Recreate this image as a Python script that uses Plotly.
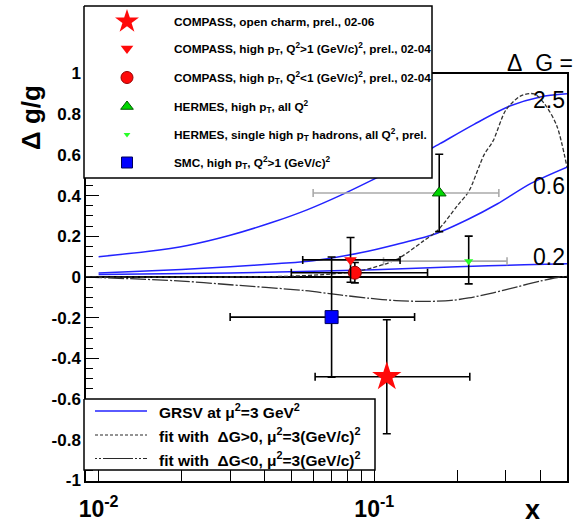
import math
import plotly.graph_objects as go

W, H = 576, 526

# ---------------- data ----------------
# GRSV curves (mu^2 = 3 GeV^2) for Delta G = 2.5, 0.6, 0.2
grsv25_x = [0.01, 0.015, 0.021, 0.03, 0.043, 0.057, 0.075, 0.096, 0.13, 0.173, 0.23, 0.31, 0.4, 0.5]
grsv25_y = [0.10, 0.125, 0.155, 0.205, 0.27, 0.33, 0.40, 0.47, 0.56, 0.655, 0.75, 0.84, 0.885, 0.90]
grsv06_x = [0.01, 0.02, 0.03, 0.045, 0.06, 0.09, 0.12, 0.165, 0.22, 0.28, 0.37, 0.5]
grsv06_y = [0.02, 0.037, 0.05, 0.066, 0.08, 0.12, 0.16, 0.21, 0.285, 0.36, 0.46, 0.54]
grsv02_x = [0.01, 0.03, 0.06, 0.1, 0.2, 0.35, 0.5]
grsv02_y = [0.012, 0.02, 0.028, 0.036, 0.05, 0.06, 0.065]
# fits
fitpos_x = [0.009, 0.03, 0.05, 0.07, 0.09, 0.12, 0.15, 0.17, 0.2, 0.22, 0.25, 0.27, 0.30, 0.34, 0.38, 0.42, 0.46, 0.5]
fitpos_y = [0.0, 0.0, 0.004, 0.015, 0.032, 0.085, 0.175, 0.23, 0.35, 0.42, 0.60, 0.67, 0.82, 0.89, 0.90, 0.84, 0.74, 0.54]
fitneg_x = [0.009, 0.02, 0.03, 0.055, 0.075, 0.095, 0.12, 0.155, 0.19, 0.22, 0.27, 0.33, 0.4, 0.47, 0.5]
fitneg_y = [0.0, -0.02, -0.038, -0.066, -0.088, -0.104, -0.116, -0.12, -0.115, -0.103, -0.078, -0.048, -0.02, 0.0, 0.003]

# measurements: x, dg/g, +err, -err, x_low, x_high
charm = dict(x=0.111, y=-0.49, ep=0.28, em=0.28, xlo=0.061, xhi=0.222)
hipt_gt1 = dict(x=0.082, y=0.084, ep=0.11, em=0.11, xlo=0.055, xhi=0.124)
hipt_lt1 = dict(x=0.085, y=0.021, ep=0.05, em=0.05, xlo=0.050, xhi=0.156)
hermes_hipt = dict(x=0.172, y=0.413, ep=0.19, em=0.19, xlo=0.060, xhi=0.283)
hermes_single = dict(x=0.22, y=0.078, ep=0.123, em=0.112, xlo=0.108, xhi=0.303)
smc = dict(x=0.070, y=-0.197, ep=0.295, em=0.295, xlo=0.030, xhi=0.140)

yticks = [-1, -0.8, -0.6, -0.4, -0.2, 0, 0.2, 0.4, 0.6, 0.8, 1]
ytick_text = ["-1", "-0.8", "-0.6", "-0.4", "-0.2", "0", "0.2", "0.4", "0.6", "0.8", "1"]
xticks = [0.01, 0.1]
xtick_text = ["10<sup>-2</sup>", "10<sup>-1</sup>"]
dg_labels = ["2.5", "0.6", "0.2"]

top_legend_text = [
    "COMPASS, open charm, prel., 02-06",
    "COMPASS, high p<sub>T</sub>, Q<sup>2</sup>&gt;1 (GeV/c)<sup>2</sup>, prel., 02-04",
    "COMPASS, high p<sub>T</sub>, Q<sup>2</sup>&lt;1 (GeV/c)<sup>2</sup>, prel., 02-04",
    "HERMES, high p<sub>T</sub>, all Q<sup>2</sup>",
    "HERMES, single high p<sub>T</sub> hadrons, all Q<sup>2</sup>, prel.",
    "SMC, high p<sub>T</sub>, Q<sup>2</sup>&gt;1 (GeV/c)<sup>2</sup>",
]
bottom_legend_text = [
    "GRSV at \u03bc<sup>2</sup>=3 GeV<sup>2</sup>",
    "fit with  \u0394G&gt;0, \u03bc<sup>2</sup>=3(GeV/c)<sup>2</sup>",
    "fit with  \u0394G&lt;0, \u03bc<sup>2</sup>=3(GeV/c)<sup>2</sup>",
]

# ---------------- styles / layout geometry (pixels) ----------------
FONT = "Liberation Sans"
PLOT_L, PLOT_R, PLOT_T, PLOT_B = 86, 567, 73.5, 480.5
BLUE = "rgb(35,35,255)"
RED = "rgb(255,10,10)"
GREEN = "rgb(0,215,0)"
LGREEN = "rgb(40,255,40)"
SQBLUE = "rgb(0,0,255)"
GREY_BAR = "rgb(170,170,170)"
FIT_COL = "rgb(50,50,50)"

styles = [
    dict(d=charm, symbol="star", size=22, color=RED, lc=RED, lw=0, exc="black", lsize=18),
    dict(d=hipt_gt1, symbol="triangle-down", size=11, color=RED, lc=RED, lw=0, exc="black", lsize=11),
    dict(d=hipt_lt1, symbol="circle", size=13, color=RED, lc="rgb(150,0,0)", lw=1, exc="black", lsize=12),
    dict(d=hermes_hipt, symbol="triangle-up", size=12, color=GREEN, lc="rgb(0,90,0)", lw=1, exc=GREY_BAR, lsize=11),
    dict(d=hermes_single, symbol="triangle-down", size=8, color=LGREEN, lc=LGREEN, lw=0, exc=GREY_BAR, lsize=6),
    dict(d=smc, symbol="square", size=13, color=SQBLUE, lc="rgb(0,0,90)", lw=1, exc="black", lsize=11),
]

fig = go.Figure()

# curves
for xs, ys in [(grsv25_x, grsv25_y), (grsv06_x, grsv06_y), (grsv02_x, grsv02_y)]:
    fig.add_trace(go.Scatter(x=xs, y=ys, mode="lines",
                             line=dict(color=BLUE, width=1.5, shape="spline", smoothing=0.8),
                             showlegend=False, hoverinfo="skip"))
fig.add_trace(go.Scatter(x=fitpos_x, y=fitpos_y, mode="lines",
                         line=dict(color=FIT_COL, width=1.3, dash="4px,2px", shape="spline", smoothing=0.8),
                         showlegend=False, hoverinfo="skip"))
fig.add_trace(go.Scatter(x=fitneg_x, y=fitneg_y, mode="lines",
                         line=dict(color=FIT_COL, width=1.3, dash="16px,2px,2px,2px", shape="spline", smoothing=0.8),
                         showlegend=False, hoverinfo="skip"))

# measurements
order = [5, 3, 4, 2, 1, 0]
for i in order:
    s = styles[i]
    d = s["d"]
    fig.add_trace(go.Scatter(
        x=[d["x"]], y=[d["y"]], mode="markers",
        marker=dict(symbol=s["symbol"], size=s["size"], color=s["color"],
                    line=dict(color=s["lc"], width=s["lw"])),
        error_x=dict(type="data", symmetric=False, array=[d["xhi"] - d["x"]],
                     arrayminus=[d["x"] - d["xlo"]], color=s["exc"], thickness=1.6, width=4),
        error_y=dict(type="data", symmetric=False, array=[d["ep"]], arrayminus=[d["em"]],
                     color="black", thickness=1.6, width=4),
        showlegend=False, hoverinfo="skip", cliponaxis=False))

# ---------------- overlay (pixel space) for the legend boxes ----------------
TOP_BOX = (84, 6, 432, 178)
BOT_BOX = (84, 399, 375, 470)
TOP_ROWS = [21.5, 48.5, 77.5, 106.5, 134.5, 162.5]
TOP_MARK_X, TOP_TEXT_X = 127, 172
BOT_ROWS = [411, 435, 458.5]
BOT_LINE = (95, 147)
BOT_TEXT_X = 157

for (x0, y0, x1, y1) in [TOP_BOX, BOT_BOX]:
    fig.add_trace(go.Scatter(x=[x0, x1, x1, x0, x0], y=[y0, y0, y1, y1, y0], mode="lines",
                             fill="toself", fillcolor="white",
                             line=dict(color="black", width=1.5),
                             xaxis="x2", yaxis="y2", showlegend=False, hoverinfo="skip"))

for s, ry in zip(styles, TOP_ROWS):
    fig.add_trace(go.Scatter(x=[TOP_MARK_X], y=[ry], mode="markers",
                             marker=dict(symbol=s["symbol"], size=s["lsize"], color=s["color"],
                                         line=dict(color=s["lc"], width=s["lw"])),
                             xaxis="x2", yaxis="y2", showlegend=False, hoverinfo="skip"))

bot_styles = [dict(color=BLUE, dash="solid", width=1.5),
              dict(color="rgb(40,40,40)", dash="3px,2px", width=1.2),
              dict(color="rgb(40,40,40)", dash="2px,2px,2px,2px,30px,2px", width=1.2)]
for st, ry in zip(bot_styles, BOT_ROWS):
    fig.add_trace(go.Scatter(x=list(BOT_LINE), y=[ry, ry], mode="lines",
                             line=dict(color=st["color"], width=st["width"], dash=st["dash"]),
                             xaxis="x2", yaxis="y2", showlegend=False, hoverinfo="skip"))

annotations = []
for txt, ry in zip(top_legend_text, TOP_ROWS):
    annotations.append(dict(x=TOP_TEXT_X, y=ry, xref="x2", yref="y2", text=txt, showarrow=False,
                            xanchor="left", yanchor="middle",
                            font=dict(family=FONT, size=11.8, color="black", weight="bold")))
for txt, ry in zip(bottom_legend_text, BOT_ROWS):
    annotations.append(dict(x=BOT_TEXT_X, y=ry, xref="x2", yref="y2", text=txt, showarrow=False,
                            xanchor="left", yanchor="middle",
                            font=dict(family=FONT, size=15.5, color="black", weight="bold")))
# Delta G labels at the right edge
for txt, ry in zip(dg_labels, [100, 186, 257]):
    annotations.append(dict(x=549, y=ry, xref="x2", yref="y2", text=txt, showarrow=False,
                            xanchor="center", yanchor="middle",
                            font=dict(family=FONT, size=23, color="black")))
annotations.append(dict(x=575, y=63, xref="x2", yref="y2", text="\u0394\u00a0\u00a0G\u00a0=", showarrow=False,
                        xanchor="right", yanchor="middle",
                        font=dict(family=FONT, size=23, color="black")))
# axis titles
annotations.append(dict(x=31, y=118, xref="x2", yref="y2", text="<b>\u0394 g/g</b>", showarrow=False,
                        textangle=-90, xanchor="center", yanchor="middle",
                        font=dict(family=FONT, size=26, color="black")))
annotations.append(dict(x=532, y=510, xref="x2", yref="y2", text="<b>x</b>", showarrow=False,
                        xanchor="center", yanchor="middle",
                        font=dict(family=FONT, size=27, color="black")))

minor_x = [k * 10 ** e for e in (-2, -1) for k in range(2, 10) if k * 10 ** e <= 0.5]

fig.update_layout(
    width=W, height=H, autosize=False, template="none",
    margin=dict(l=0, r=0, t=0, b=0, pad=0),
    paper_bgcolor="white", plot_bgcolor="rgba(0,0,0,0)",
    font=dict(family=FONT, color="black"),
    showlegend=False,
    xaxis=dict(type="log", range=[math.log10(0.009), math.log10(0.5)],
               domain=[PLOT_L / W, PLOT_R / W], anchor="y",
               showline=True, linecolor="black", linewidth=1.5, mirror=True,
               ticks="inside", ticklen=11, tickwidth=1.2, tickcolor="black",
               tickvals=xticks, ticktext=xtick_text, ticklabelstandoff=7,
               tickfont=dict(family=FONT, size=23, color="black", weight="bold"),
               minor=dict(tickvals=minor_x, ticks="inside", ticklen=11, tickwidth=1.2, tickcolor="black", showgrid=False),
               showgrid=False, zeroline=False, automargin=False, fixedrange=True),
    yaxis=dict(range=[-1, 1], domain=[1 - PLOT_B / H, 1 - PLOT_T / H], anchor="x",
               showline=True, linecolor="black", linewidth=1.5, mirror=True,
               ticks="inside", ticklen=13, tickwidth=1.2, tickcolor="black",
               tickvals=yticks, ticktext=ytick_text,
               tickfont=dict(family=FONT, size=17, color="black", weight="bold"),
               minor=dict(dtick=0.05, ticks="inside", ticklen=7, tickwidth=1.2, tickcolor="black", showgrid=False),
               showgrid=False, zeroline=True, zerolinecolor="black", zerolinewidth=1.5,
               automargin=False, fixedrange=True),
    xaxis2=dict(range=[0, W], domain=[0, 1], anchor="y2", visible=False, fixedrange=True),
    yaxis2=dict(range=[H, 0], domain=[0, 1], anchor="x2", visible=False, fixedrange=True),
    annotations=annotations,
)

fig.write_html("out.html")
